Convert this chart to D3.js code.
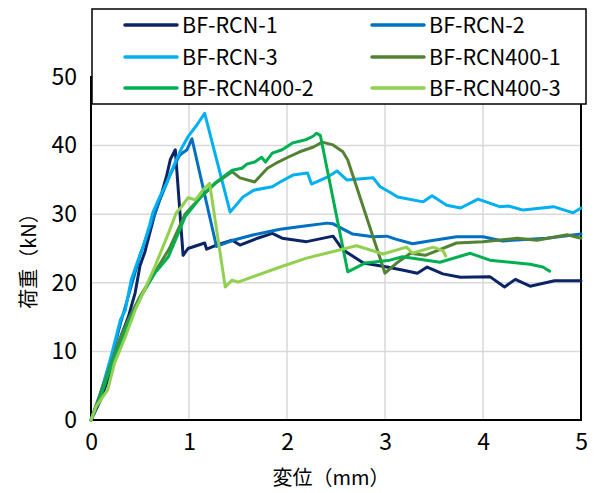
<!DOCTYPE html>
<html>
<head>
<meta charset="utf-8">
<script src="https://cdn.jsdelivr.net/npm/d3@7"></script>
<style>
  body { margin: 0; background: #fff; }
  text { font-family: "Noto Sans CJK JP", "Noto Sans", sans-serif; fill: #000; }
</style>
</head>
<body>
<div id="chart"></div>
<script>
// series: [displacement mm, load kN]
const seriesNames = ['BF-RCN-1', 'BF-RCN-2', 'BF-RCN-3', 'BF-RCN400-1', 'BF-RCN400-2', 'BF-RCN400-3'];
const seriesColors = ['#0B2466', '#0070C0', '#00B0F0', '#548235', '#00B050', '#92D050'];

const rcn1 = [[0,0],[0.1,3],[0.2,7],[0.3,12],[0.38,15],[0.45,18.5],[0.5,22.5],[0.55,24.5],[0.65,30],[0.72,33],
  [0.77,35.5],[0.81,38],[0.86,39.4],[0.94,24],[0.99,25],[1.16,25.8],[1.18,24.9],[1.3,25.6],[1.44,26.2],[1.52,25.5],
  [1.7,26.5],[1.85,27.2],[1.95,26.5],[2.2,26.0],[2.47,26.8],[2.57,24.8],[2.78,22.9],[3.02,22.3],[3.2,21.8],[3.33,21.4],
  [3.43,22.3],[3.59,21.3],[3.77,20.8],[4.07,20.9],[4.22,19.4],[4.33,20.5],[4.48,19.5],[4.73,20.3],[5.0,20.3]];
const rcn2 = [[0,0],[0.1,4],[0.2,8.5],[0.3,14],[0.4,19],[0.5,24],[0.6,28],[0.7,32],[0.8,35.5],[0.9,38.5],[0.94,39],
  [0.98,39.4],[1.03,41],[1.28,25.3],[1.45,26.2],[1.66,27],[1.93,27.8],[2.2,28.3],[2.41,28.7],[2.47,28.6],[2.67,27.1],
  [2.88,26.7],[3.02,26.8],[3.1,26.4],[3.28,25.7],[3.5,26.2],[3.73,26.7],[4.0,26.7],[4.2,26.1],[4.65,26.5],[5.0,27.1]];
const rcn3 = [[0,0],[0.1,4],[0.2,9],[0.3,14.6],[0.35,16],[0.41,20.4],[0.48,23.3],[0.53,25.2],[0.6,28.5],[0.63,30.2],
  [0.7,32.5],[0.77,34.5],[0.86,37.6],[0.92,39.5],[0.99,41.3],[1.08,43],[1.16,44.7],[1.42,30.3],[1.55,32.5],[1.66,33.5],
  [1.85,34],[1.93,34.7],[2.06,35.7],[2.21,36],[2.25,34.4],[2.41,35.4],[2.51,36.3],[2.61,35],[2.88,35.3],[2.95,34],
  [3.05,33.2],[3.13,32.5],[3.39,31.8],[3.48,32.7],[3.63,31.3],[3.77,30.9],[3.95,32.2],[4.17,31.1],[4.26,31.2],
  [4.41,30.6],[4.72,31.1],[4.92,30.2],[5.0,30.9]];
const rcn400_1 = [[0,0],[0.1,4],[0.2,8],[0.3,12],[0.38,14.6],[0.5,18],[0.65,21.5],[0.8,25],[0.96,30],[1.12,32.5],
  [1.27,34.5],[1.44,36.2],[1.52,35.3],[1.67,34.7],[1.8,36.7],[1.91,37.6],[2.01,38.3],[2.13,39.1],[2.27,39.8],
  [2.36,40.5],[2.47,40.1],[2.57,39.1],[2.62,37.9],[3.0,21.4],[3.13,23],[3.26,24.3],[3.41,24],[3.73,25.8],[4.0,26],
  [4.35,26.5],[4.55,26.2],[4.86,27],[5.0,26.5]];
const rcn400_2 = [[0,0],[0.1,3.5],[0.2,7.7],[0.3,11],[0.38,14.1],[0.51,18],[0.65,21.4],[0.79,23.8],[0.96,29.6],
  [1.12,32.5],[1.27,34.6],[1.44,36.4],[1.54,36.7],[1.59,37.3],[1.67,37.6],[1.74,38.3],[1.78,37.6],[1.85,38.9],
  [1.95,39.4],[2.06,40.4],[2.2,40.9],[2.27,41.4],[2.3,41.8],[2.34,41.5],[2.62,21.6],[2.8,22.9],[3.05,23.3],
  [3.18,23.8],[3.56,23],[3.87,24.3],[4.07,23.3],[4.48,22.7],[4.61,22.3],[4.68,21.7]];
const rcn400_3 = [[0,0],[0.05,1.9],[0.17,4.4],[0.24,8.3],[0.35,12.1],[0.45,16],[0.56,19.4],[0.65,22.3],[0.79,27.2],
  [0.87,30.2],[0.92,31],[0.99,32.4],[1.06,32.1],[1.09,32.5],[1.14,33.5],[1.21,34.5],[1.37,19.4],[1.44,20.4],
  [1.5,20.1],[1.93,22.3],[2.2,23.6],[2.71,25.4],[2.98,24.2],[3.22,25.2],[3.28,24.3],[3.49,25.2],[3.59,24.7],[3.62,23.9]];
const seriesData = [rcn1, rcn2, rcn3, rcn400_1, rcn400_2, rcn400_3];

const xTicks = [0, 1, 2, 3, 4, 5];
const yTicks = [0, 10, 20, 30, 40, 50];
const xTitle = '変位（mm）';
const yTitle = '荷重（kN）';

const W = 600, H = 493;
const plot = { left: 91, right: 581, top: 77, bottom: 420 };

const svg = d3.select('#chart').append('svg')
    .attr('width', W)
    .attr('height', H);

const x = d3.scaleLinear().domain([0, 5]).range([plot.left, plot.right]);
const y = d3.scaleLinear().domain([0, 50]).range([plot.bottom, plot.top]);

// gridlines
svg.append('g')
    .selectAll('line.gx')
    .data(xTicks.slice(1))
    .join('line')
    .attr('x1', d => x(d)).attr('x2', d => x(d))
    .attr('y1', plot.top).attr('y2', plot.bottom)
    .attr('stroke', '#d9d9d9').attr('stroke-width', 1.5);
svg.append('g')
    .selectAll('line.gy')
    .data(yTicks.slice(1))
    .join('line')
    .attr('x1', plot.left).attr('x2', plot.right)
    .attr('y1', d => y(d)).attr('y2', d => y(d))
    .attr('stroke', '#d9d9d9').attr('stroke-width', 1.5);

// frame
svg.append('rect')
    .attr('x', plot.left).attr('y', plot.top)
    .attr('width', plot.right - plot.left).attr('height', plot.bottom - plot.top)
    .attr('fill', 'none').attr('stroke', '#000').attr('stroke-width', 2);

// axes (labels only)
let xAxis = d3.axisBottom(x).tickValues(xTicks).tickSize(0).tickPadding(14).tickFormat(d3.format('d'));
let gX = svg.append('g')
    .attr('transform', 'translate(0,' + plot.bottom + ')')
    .call(xAxis);
let yAxis = d3.axisLeft(y).tickValues(yTicks).tickSize(0).tickPadding(14).tickFormat(d3.format('d'));
let gY = svg.append('g')
    .attr('transform', 'translate(' + plot.left + ',0)')
    .call(yAxis);
[gX, gY].forEach(g => {
    g.select('.domain').remove();
    g.selectAll('text').attr('font-size', 23).attr('font-family', '"Noto Sans CJK JP", sans-serif').attr('fill', '#000');
});

// lines
const line = d3.line().x(d => x(d[0])).y(d => y(d[1]));
svg.append('g')
    .selectAll('path')
    .data(seriesData)
    .join('path')
    .attr('d', line)
    .attr('fill', 'none')
    .attr('stroke', (d, i) => seriesColors[i])
    .attr('stroke-width', 3)
    .attr('stroke-linejoin', 'round')
    .attr('stroke-linecap', 'round');

// titles
svg.append('text')
    .attr('x', 331).attr('y', 485)
    .attr('text-anchor', 'middle')
    .attr('font-size', 20)
    .text(xTitle);
svg.append('text')
    .attr('transform', 'translate(36,256) rotate(-90)')
    .attr('text-anchor', 'middle')
    .attr('font-size', 20)
    .text(yTitle);

// legend
const legend = svg.append('g');
legend.append('rect')
    .attr('x', 92).attr('y', 9).attr('width', 494).attr('height', 95)
    .attr('fill', '#fff').attr('stroke', '#000').attr('stroke-width', 1.5);
const legendCols = [125, 372];
const legendRows = [25, 57, 88];
const items = legend.selectAll('g.item')
    .data(seriesNames)
    .join('g')
    .attr('transform', (d, i) => 'translate(' + legendCols[i % 2] + ',' + legendRows[Math.floor(i / 2)] + ')');
items.append('line')
    .attr('x1', 0).attr('x2', 52).attr('y1', 0).attr('y2', 0)
    .attr('stroke', (d, i) => seriesColors[i])
    .attr('stroke-width', 3.5).attr('stroke-linecap', 'round');
items.append('text')
    .attr('x', 57).attr('y', 8)
    .attr('font-size', 21.5)
    .text(d => d);
</script>
</body>
</html>
